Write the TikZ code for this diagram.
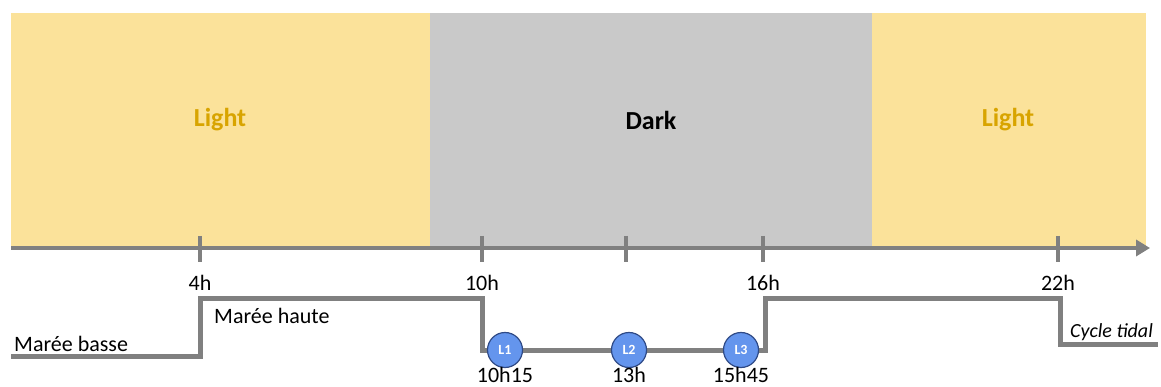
\documentclass[tikz,border=0pt]{standalone}
\usepackage{fontspec}
\setmainfont{Carlito}
\usetikzlibrary{arrows.meta}
\definecolor{lightyel}{HTML}{FBE29A}
\definecolor{darkgray}{HTML}{C9C9C9}
\definecolor{gold}{HTML}{D8A400}
\definecolor{axisgray}{HTML}{808080}
\definecolor{circfill}{HTML}{6495ED}
\definecolor{circedge}{HTML}{2F4A86}
\tikzset{
  band/.style={draw=none},
  bandlabel/.style={font=\fontsize{26}{30}\selectfont\bfseries},
  tick/.style={draw=axisgray, line width=4pt},
  ticklabel/.style={font=\fontsize{22}{26}\selectfont, inner sep=0pt},
  tide/.style={draw=axisgray, line width=5pt, line join=miter},
  lamp/.style={circle, fill=circfill, draw=circedge, line width=1.2pt, minimum size=35pt, inner sep=0pt, text=white, font=\fontsize{14}{16}\selectfont\bfseries},
  note/.style={font=\fontsize{22}{26}\selectfont, inner sep=0pt, anchor=base west}
}
\begin{document}
\begin{tikzpicture}[x=1pt,y=-1pt]
\useasboundingbox (0,0) rectangle (1161,387);
% bands
\fill[lightyel] (11,13) rectangle (430,248);
\fill[darkgray] (430,13) rectangle (872,248);
\fill[lightyel] (872,13) rectangle (1146,248);
\node[bandlabel, text=gold] (l1) at (220,120) {Light};
\node[bandlabel] (dk) at (651,120) {Dark};
\node[bandlabel, text=gold] (l2) at (1008,120) {Light};
% axis
\coordinate (a0) at (11,248);
\coordinate (a1) at (1150,248);
\draw[draw=axisgray, line width=4.5pt, -{Triangle[length=14pt,width=16pt]}] (a0) -- (a1);
% ticks
\foreach \x/\n in {200/t4, 482/t10, 626/t13, 763/t16, 1058/t22}{
  \coordinate (\n a) at (\x,236);
  \coordinate (\n b) at (\x,262);
  \draw[tick] (\n a) -- (\n b);
}
\node[ticklabel] (lab4) at (200,283) {4h};
\node[ticklabel] (lab10) at (482,283) {10h};
\node[ticklabel] (lab16) at (763,283) {16h};
\node[ticklabel] (lab22) at (1058,283) {22h};
% tidal line
\coordinate (p0) at (11,356);
\coordinate (p1) at (200,356);
\coordinate (p2) at (200,298);
\coordinate (p3) at (482,298);
\coordinate (p4) at (482,350);
\coordinate (p5) at (765,350);
\coordinate (p6) at (765,298);
\coordinate (p7) at (1060,298);
\coordinate (p8) at (1060,344);
\coordinate (p9) at (1158,344);
\draw[tide] (p0) -- (p1) -- (p2) -- (p3) -- (p4) -- (p5) -- (p6) -- (p7) -- (p8) -- (p9);
% lamps
\node[lamp] (L1) at (505,350) {L1};
\node[lamp] (L2) at (629,350) {L2};
\node[lamp] (L3) at (741,350) {L3};
\node[ticklabel] (tL1) at (505,375) {10h15};
\node[ticklabel] (tL2) at (629,375) {13h};
\node[ticklabel] (tL3) at (741,375) {15h45};
% notes
\node[note] (mb) at (14,351) {Marée basse};
\node[note] (mh) at (214,323) {Marée haute};
\node[note, font=\fontsize{20}{24}\selectfont\itshape] (ct) at (1070,337) {Cycle tidal};
\end{tikzpicture}
\end{document}
